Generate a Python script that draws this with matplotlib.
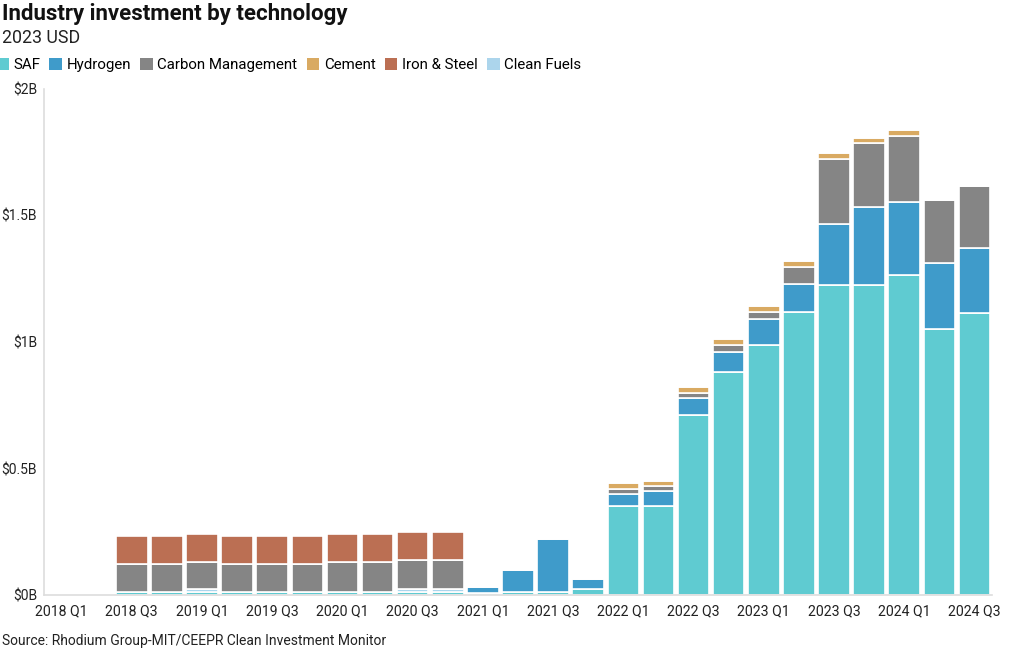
import matplotlib
matplotlib.use("Agg")
import matplotlib.pyplot as plt
import numpy as np
from matplotlib.patches import Patch

plt.rcParams['font.family'] = ['Roboto', 'DejaVu Sans']

quarters = ["2018 Q1", "2018 Q2", "2018 Q3", "2018 Q4",
            "2019 Q1", "2019 Q2", "2019 Q3", "2019 Q4",
            "2020 Q1", "2020 Q2", "2020 Q3", "2020 Q4",
            "2021 Q1", "2021 Q2", "2021 Q3", "2021 Q4",
            "2022 Q1", "2022 Q2", "2022 Q3", "2022 Q4",
            "2023 Q1", "2023 Q2", "2023 Q3", "2023 Q4",
            "2024 Q1", "2024 Q2", "2024 Q3"]

# values in billions of 2023 USD
saf = [0, 0, 0.01, 0.01, 0.01, 0.01, 0.01, 0.01, 0.01, 0.01, 0.01, 0.01,
       0.008, 0.01, 0.01, 0.022,
       0.35, 0.35, 0.71, 0.88, 0.99, 1.12, 1.225, 1.225, 1.266, 1.053, 1.116]
clean_fuels = [0, 0, 0, 0, 0.012, 0, 0, 0, 0, 0, 0.012, 0.012,
               0, 0, 0, 0,
               0, 0, 0, 0, 0, 0, 0, 0, 0, 0, 0]
hydrogen = [0, 0, 0, 0, 0, 0, 0, 0, 0, 0, 0, 0,
            0.022, 0.09, 0.21, 0.04,
            0.05, 0.06, 0.07, 0.08, 0.10, 0.11, 0.24, 0.31, 0.288, 0.26, 0.257]
carbon_mgmt = [0, 0, 0.111, 0.111, 0.107, 0.111, 0.111, 0.111, 0.119, 0.122, 0.118, 0.118,
               0, 0, 0, 0,
               0.02, 0.02, 0.02, 0.028, 0.03, 0.068, 0.26, 0.25, 0.26, 0.25, 0.242]
cement = [0, 0, 0, 0, 0, 0, 0, 0, 0, 0, 0, 0,
          0, 0, 0, 0,
          0.022, 0.022, 0.021, 0.024, 0.021, 0.023, 0.022, 0.022, 0.022, 0, 0]
iron_steel = [0, 0, 0.112, 0.112, 0.112, 0.112, 0.112, 0.112, 0.112, 0.109, 0.11, 0.11,
              0, 0, 0, 0,
              0, 0, 0, 0, 0, 0, 0, 0, 0, 0, 0]

legend_names = ["SAF", "Hydrogen", "Carbon Management", "Cement", "Iron & Steel", "Clean Fuels"]
colors = {"SAF": "#5fcbd1", "Hydrogen": "#3f9bca", "Carbon Management": "#858585",
          "Cement": "#d9aa62", "Iron & Steel": "#bb6f53", "Clean Fuels": "#acd5ec"}

stack_order = [("SAF", saf), ("Clean Fuels", clean_fuels), ("Hydrogen", hydrogen),
               ("Carbon Management", carbon_mgmt), ("Cement", cement),
               ("Iron & Steel", iron_steel)]

fig = plt.figure(figsize=(10.2, 6.5), dpi=100)
ax = fig.add_axes([44/1020, 1-595/650, (992-44)/1020, (595-89)/650])

x = np.arange(len(quarters))
bottom = np.zeros(len(quarters))
for name, vals in stack_order:
    v = np.array(vals, dtype=float)
    ax.bar(x, v, bottom=bottom, width=0.9, color=colors[name],
           edgecolor="white", linewidth=1.2, zorder=2)
    bottom += v

ax.set_xlim(-0.5, len(quarters) - 0.5)
ax.set_ylim(0, 2.0)
ax.set_yticks([0, 0.5, 1, 1.5, 2])
ax.set_yticklabels(["$0B", "$0.5B", "$1B", "$1.5B", "$2B"], fontsize=10, color="#222222")
ax.set_xticks(x[::2])
ax.set_xticklabels(quarters[::2], fontsize=10.2, color="#222222")
ax.tick_params(axis='both', length=0)
ax.tick_params(axis='x', pad=7)
ax.tick_params(axis='y', pad=5)
for s in ["top", "right"]:
    ax.spines[s].set_visible(False)
for s in ["left", "bottom"]:
    ax.spines[s].set_color("#dddddd")
    ax.spines[s].set_linewidth(1.2)

fig.text(2/1020, 1-14/650, "Industry investment by technology", fontsize=16,
         fontweight="bold", va="center", ha="left", color="#111111")
fig.text(2/1020, 1-38/650, "2023 USD", fontsize=12.8, va="center", ha="left", color="#222222")
fig.text(2/1020, 1-641/650, "Source: Rhodium Group-MIT/CEEPR Clean Investment Monitor",
         fontsize=10, va="center", ha="left", color="#222222")

handles = [Patch(facecolor=colors[n], edgecolor="none", label=n) for n in legend_names]
fig.legend(handles=handles, loc="center left", bbox_to_anchor=(-0.004, 1-65/650),
           ncol=6, frameon=False, fontsize=10.85, handlelength=0.85, handleheight=0.85,
           handletextpad=0.3, columnspacing=0.6, borderaxespad=0, borderpad=0)

fig.savefig("out.png", dpi=100)
